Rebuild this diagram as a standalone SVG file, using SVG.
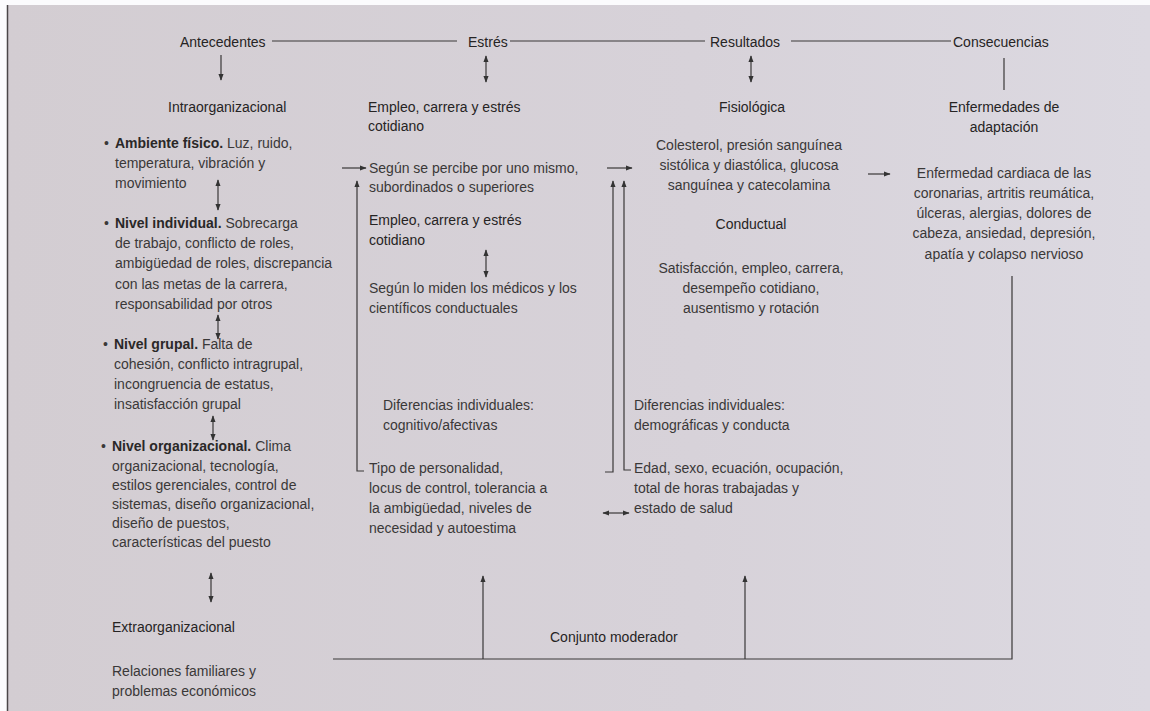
<svg xmlns="http://www.w3.org/2000/svg" width="1150" height="711" viewBox="0 0 1150 711">
<defs>
<linearGradient id="page" x1="0" y1="0" x2="1" y2="0">
<stop offset="0" stop-color="#d3cdd2"/>
<stop offset="0.6" stop-color="#d7d2d9"/>
<stop offset="1" stop-color="#dcd9e1"/>
</linearGradient>
<marker id="ah" viewBox="0 0 10 10" refX="9" refY="5" markerWidth="7" markerHeight="7" markerUnits="userSpaceOnUse" orient="auto-start-reverse">
<path d="M0,1.2 L10,5 L0,8.8 z" fill="#333"/>
</marker>
<style>
text{font-family:"Liberation Sans",Arial,sans-serif;font-size:14px;fill:#3a3838}
.h{fill:#262424}
.c{text-anchor:middle}
.b{font-weight:bold;fill:#2a2828}
.ln{stroke:#3a3838;stroke-width:1.2;fill:none}
.ar{stroke:#3a3838;stroke-width:1.2;fill:none;marker-end:url(#ah)}
.da{stroke:#3a3838;stroke-width:1.2;fill:none;marker-start:url(#ah);marker-end:url(#ah)}
</style>
</defs>
<rect width="1150" height="711" fill="#fbfbfd"/>
<rect x="7" y="5" width="1143" height="706" fill="url(#page)"/>
<line x1="7.5" y1="5" x2="7.5" y2="711" stroke="#4a4648" stroke-width="1.5"/>

<g id="connectors">
<line class="ln" x1="272" y1="41" x2="457" y2="41"/>
<line class="ln" x1="510" y1="41" x2="705" y2="41"/>
<line class="ln" x1="791" y1="41" x2="951" y2="41"/>
<line class="ar" x1="221" y1="55" x2="221" y2="80"/>
<line class="da" x1="486" y1="56" x2="486" y2="82"/>
<line class="da" x1="751" y1="56" x2="751" y2="82"/>
<line class="ln" x1="1004" y1="58" x2="1004" y2="90"/>
<line class="da" x1="218" y1="180" x2="218" y2="210"/>
<line class="da" x1="218" y1="315" x2="218" y2="339"/>
<line class="da" x1="213" y1="416" x2="213" y2="440"/>
<line class="da" x1="211" y1="573" x2="211" y2="602"/>
<line class="ar" x1="342" y1="168" x2="366" y2="168"/>
<path class="ar" d="M364,471 L357,471 L357,181"/>
<line class="da" x1="486" y1="250" x2="486" y2="277"/>
<line class="ar" x1="607" y1="168" x2="632" y2="168"/>
<path class="ar" d="M605,472 L613,472 L613,181"/>
<path class="ar" d="M631,470 L624,470 L624,181"/>
<line class="da" x1="603" y1="513" x2="629" y2="513"/>
<line class="ar" x1="868" y1="174" x2="890" y2="174"/>
<path class="ln" d="M1012,276 L1012,659 L333,659"/>
<line class="ar" x1="483" y1="659" x2="483" y2="576"/>
<line class="ar" x1="745" y1="659" x2="745" y2="576"/>
</g>

<g id="antecedentes"><text class="h" x="180" y="47">Antecedentes</text></g>
<g id="estres"><text class="h" x="468" y="47">Estrés</text></g>
<g id="resultados"><text class="h" x="710" y="47">Resultados</text></g>
<g id="consecuencias"><text class="h" x="953" y="47">Consecuencias</text></g>

<g id="intraorganizacional"><text class="h" x="168" y="112">Intraorganizacional</text></g>

<g id="ambiente-fisico">
<text x="104" y="148">•</text>
<text x="115" y="148"><tspan class="b">Ambiente físico.</tspan> Luz, ruido,</text>
<text x="115" y="168">temperatura, vibración y</text>
<text x="115" y="188">movimiento</text>
</g>
<g id="nivel-individual">
<text x="104" y="228">•</text>
<text x="115" y="228"><tspan class="b">Nivel individual.</tspan> Sobrecarga</text>
<text x="115" y="248">de trabajo, conflicto de roles,</text>
<text x="115" y="268">ambigüedad de roles, discrepancia</text>
<text x="115" y="289">con las metas de la carrera,</text>
<text x="115" y="309">responsabilidad por otros</text>
</g>
<g id="nivel-grupal">
<text x="103" y="349">•</text>
<text x="114" y="349"><tspan class="b">Nivel grupal.</tspan> Falta de</text>
<text x="114" y="369">cohesión, conflicto intragrupal,</text>
<text x="114" y="389">incongruencia de estatus,</text>
<text x="114" y="409">insatisfacción grupal</text>
</g>
<g id="nivel-organizacional">
<text x="101" y="451">•</text>
<text x="112" y="451"><tspan class="b">Nivel organizacional.</tspan> Clima</text>
<text x="112" y="471">organizacional, tecnología,</text>
<text x="112" y="490">estilos gerenciales, control de</text>
<text x="112" y="509">sistemas, diseño organizacional,</text>
<text x="112" y="528">diseño de puestos,</text>
<text x="112" y="547">características del puesto</text>
</g>
<g id="extraorganizacional">
<text class="h" x="112" y="632">Extraorganizacional</text>
</g>
<g id="relaciones">
<text x="112" y="676">Relaciones familiares y</text>
<text x="112" y="696">problemas económicos</text>
</g>

<g id="empleo-estres">
<text class="h" x="368" y="112">Empleo, carrera y estrés</text>
<text class="h" x="368" y="131">cotidiano</text>
</g>
<g id="segun-percibe">
<text x="369" y="173">Según se percibe por uno mismo,</text>
<text x="369" y="192">subordinados o superiores</text>
</g>
<g id="empleo-estres-2">
<text class="h" x="369" y="225">Empleo, carrera y estrés</text>
<text class="h" x="369" y="245">cotidiano</text>
</g>
<g id="segun-miden">
<text x="369" y="293">Según lo miden los médicos y los</text>
<text x="369" y="313">científicos conductuales</text>
</g>
<g id="dif-cognitivo">
<text x="383" y="410">Diferencias individuales:</text>
<text x="383" y="430">cognitivo/afectivas</text>
</g>
<g id="tipo-personalidad">
<text x="369" y="473">Tipo de personalidad,</text>
<text x="369" y="493">locus de control, tolerancia a</text>
<text x="369" y="513">la ambigüedad, niveles de</text>
<text x="369" y="533">necesidad y autoestima</text>
</g>

<g id="fisiologica"><text class="h" x="719" y="112">Fisiológica</text></g>
<g id="colesterol">
<text class="c" x="749" y="150">Colesterol, presión sanguínea</text>
<text class="c" x="749" y="170">sistólica y diastólica, glucosa</text>
<text class="c" x="749" y="190">sanguínea y catecolamina</text>
</g>
<g id="conductual"><text class="h c" x="751" y="229">Conductual</text></g>
<g id="satisfaccion">
<text class="c" x="751" y="273">Satisfacción, empleo, carrera,</text>
<text class="c" x="751" y="293">desempeño cotidiano,</text>
<text class="c" x="751" y="313">ausentismo y rotación</text>
</g>
<g id="dif-demograficas">
<text x="634" y="410">Diferencias individuales:</text>
<text x="634" y="430">demográficas y conducta</text>
</g>
<g id="edad-sexo">
<text x="634" y="473">Edad, sexo, ecuación, ocupación,</text>
<text x="634" y="493">total de horas trabajadas y</text>
<text x="634" y="513">estado de salud</text>
</g>

<g id="enfermedades-adaptacion">
<text class="h c" x="1004" y="112">Enfermedades de</text>
<text class="h c" x="1004" y="132">adaptación</text>
</g>
<g id="enfermedad-cardiaca">
<text class="c" x="1004" y="178">Enfermedad cardiaca de las</text>
<text class="c" x="1004" y="198">coronarias, artritis reumática,</text>
<text class="c" x="1004" y="218">úlceras, alergias, dolores de</text>
<text class="c" x="1004" y="238">cabeza, ansiedad, depresión,</text>
<text class="c" x="1004" y="259">apatía y colapso nervioso</text>
</g>

<g id="conjunto-moderador"><text class="h" x="550" y="642">Conjunto moderador</text></g>
</svg>
